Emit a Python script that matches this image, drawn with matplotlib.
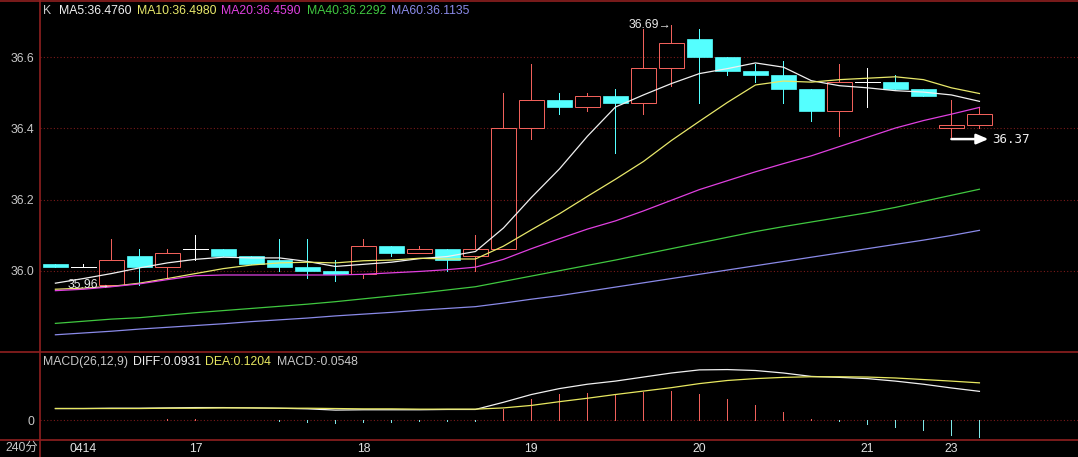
import matplotlib
matplotlib.use("Agg")
import matplotlib.pyplot as plt
from matplotlib.lines import Line2D
from matplotlib.patches import Rectangle

plt.rcParams['font.family'] = ['Liberation Sans', 'DejaVu Sans', 'Noto Sans CJK SC']

# K line data, one bar per entry
opens = [36.02, 36.01, 35.96, 36.04, 36.01, 36.06, 36.06, 36.04, 36.03, 36.01,
         36.00, 35.99, 36.07, 36.05, 36.06, 36.04, 36.06, 36.40, 36.48, 36.46,
         36.49, 36.47, 36.57, 36.65, 36.60, 36.56, 36.55, 36.51, 36.45, 36.53,
         36.53, 36.51, 36.40, 36.41]
highs = [36.02, 36.02, 36.09, 36.06, 36.06, 36.10, 36.06, 36.04, 36.09, 36.09,
         36.03, 36.09, 36.07, 36.07, 36.06, 36.10, 36.50, 36.58, 36.50, 36.50,
         36.51, 36.68, 36.69, 36.68, 36.60, 36.58, 36.59, 36.51, 36.58, 36.57,
         36.55, 36.51, 36.48, 36.46]
lows = [36.01, 36.01, 35.96, 35.96, 35.98, 36.03, 36.04, 36.02, 36.00, 35.98,
        35.97, 35.98, 36.04, 36.05, 36.00, 36.00, 36.06, 36.37, 36.44, 36.45,
        36.33, 36.44, 36.52, 36.47, 36.55, 36.53, 36.47, 36.42, 36.38, 36.46,
        36.51, 36.49, 36.37, 36.40]
closes = [36.01, 36.01, 36.03, 36.01, 36.05, 36.06, 36.04, 36.02, 36.01, 36.00,
          35.99, 36.07, 36.05, 36.06, 36.03, 36.06, 36.40, 36.48, 36.46, 36.49,
          36.47, 36.57, 36.64, 36.60, 36.56, 36.55, 36.51, 36.45, 36.53, 36.53,
          36.51, 36.49, 36.41, 36.44]

ma5 = [35.965, 35.978, 35.992, 36.008, 36.022, 36.032, 36.038, 36.036, 36.036, 36.026,
       36.012, 36.018, 36.024, 36.034, 36.040, 36.054, 36.120, 36.206, 36.286, 36.378,
       36.460, 36.494, 36.526, 36.554, 36.568, 36.584, 36.572, 36.534, 36.520, 36.514,
       36.506, 36.502, 36.494, 36.476]
ma10 = [35.948, 35.951, 35.956, 35.965, 35.978, 35.992, 36.006, 36.016, 36.022, 36.024,
        36.022, 36.028, 36.030, 36.035, 36.033, 36.033, 36.069, 36.115, 36.160, 36.209,
        36.257, 36.307, 36.366, 36.420, 36.473, 36.522, 36.533, 36.530, 36.537, 36.541,
        36.545, 36.537, 36.514, 36.498]
ma20 = [35.944, 35.948, 35.955, 35.963, 35.975, 35.986, 35.988, 35.988, 35.988, 35.988,
        35.988, 35.990, 35.994, 35.998, 36.003, 36.010, 36.032, 36.062, 36.090, 36.117,
        36.140, 36.168, 36.198, 36.228, 36.253, 36.278, 36.301, 36.323, 36.349, 36.375,
        36.401, 36.422, 36.440, 36.459]
ma40 = [35.852, 35.858, 35.864, 35.868, 35.875, 35.882, 35.888, 35.894, 35.900, 35.906,
        35.913, 35.921, 35.929, 35.937, 35.946, 35.955, 35.970, 35.985, 36.000, 36.015,
        36.030, 36.046, 36.062, 36.078, 36.094, 36.110, 36.124, 36.137, 36.150, 36.163,
        36.178, 36.195, 36.212, 36.229]
ma60 = [35.820, 35.825, 35.830, 35.836, 35.841, 35.846, 35.851, 35.857, 35.862, 35.867,
        35.873, 35.878, 35.883, 35.889, 35.894, 35.899, 35.909, 35.920, 35.930, 35.942,
        35.954, 35.966, 35.978, 35.990, 36.002, 36.014, 36.026, 36.038, 36.050, 36.062,
        36.074, 36.086, 36.099, 36.1135]

diff = [0.038, 0.038, 0.039, 0.039, 0.040, 0.041, 0.041, 0.040, 0.039, 0.037,
        0.033, 0.034, 0.034, 0.034, 0.035, 0.035, 0.058, 0.083, 0.102, 0.116,
        0.126, 0.139, 0.152, 0.162, 0.163, 0.160, 0.152, 0.141, 0.138, 0.134,
        0.126, 0.116, 0.104, 0.0931]
dea = [0.038, 0.038, 0.038, 0.038, 0.039, 0.039, 0.040, 0.040, 0.039, 0.039,
       0.038, 0.037, 0.037, 0.036, 0.036, 0.036, 0.040, 0.048, 0.060, 0.071,
       0.083, 0.094, 0.105, 0.118, 0.128, 0.134, 0.138, 0.140, 0.140, 0.139,
       0.136, 0.131, 0.126, 0.1204]
macd = [0.000, 0.001, 0.002, 0.002, 0.003, 0.004, 0.002, 0.001, -0.001, -0.004,
        -0.008, -0.005, -0.004, -0.003, -0.003, -0.002, 0.036, 0.070, 0.084, 0.089,
        0.083, 0.091, 0.093, 0.086, 0.068, 0.049, 0.028, 0.003, -0.003, -0.011,
        -0.021, -0.032, -0.048, -0.0548]

date_pos = [1, 5, 11, 17, 23, 29, 32]
date_labels = ['0414', '17', '18', '19', '20', '21', '23']

ma_names = ['MA5:36.4760', 'MA10:36.4980', 'MA20:36.4590', 'MA40:36.2292', 'MA60:36.1135']

UP = '#f0605a'
DOWN = '#54ffff'
BORDER = '#902020'
GRID = '#7a1a1a'
TXT = '#c8c8c8'
MA_COLORS = ['#f0f0f0', '#e8e86a', '#e040e0', '#40c840', '#8a8ae8']

W, H = 1078, 457
fig = plt.figure(figsize=(W / 100, H / 100), dpi=100, facecolor='black')


def fx(px):
    return px / W


def fy(py):
    return 1 - py / H


ax = fig.add_axes([fx(40), fy(351.5), 1 - fx(40), fy(1) - fy(351.5)], facecolor='black')
mx = fig.add_axes([fx(40), fy(440), 1 - fx(40), fy(351.5) - fy(440)], facecolor='black')

n = len(closes)
xs = list(range(n))
bw = 0.88
px = 0.72  # one pixel in points

for i in xs:
    o, h, l, c = opens[i], highs[i], lows[i], closes[i]
    if c > o:
        ax.add_patch(Rectangle((i - bw / 2, o), bw, c - o, fill=False, edgecolor=UP, lw=px, zorder=3))
        if h > c:
            ax.plot([i, i], [c, h], color=UP, lw=px, zorder=3)
        if l < o:
            ax.plot([i, i], [l, o], color=UP, lw=px, zorder=3)
    elif c < o:
        ax.plot([i, i], [l, h], color=DOWN, lw=px, zorder=3)
        ax.add_patch(Rectangle((i - bw / 2, c), bw, o - c, facecolor=DOWN, edgecolor=DOWN, lw=0.5, zorder=3))
    else:
        ax.plot([i, i], [l, h], color='white', lw=px, zorder=3)
        ax.plot([i - bw / 2, i + bw / 2], [o, o], color='white', lw=px, zorder=3)

for series, col in zip([ma5, ma10, ma20, ma40, ma60], MA_COLORS):
    ax.plot(xs, series, color=col, lw=0.9, zorder=4)

ax.set_xlim(-0.55, 36.52)
ax.set_ylim(35.773, 36.758)
ax.set_yticks([36.0, 36.2, 36.4, 36.6])
ax.set_yticklabels(['36.0', '36.2', '36.4', '36.6'])
ax.set_xticks([])
ax.tick_params(axis='y', length=0, pad=4, labelcolor=TXT, labelsize=8.8)
ax.yaxis.grid(True, color=GRID, linestyle=(0, (1, 2)), lw=0.8)
ax.set_axisbelow(True)

# price marks
ax.text(1.95, 35.96, '35.96\u2192', ha='right', va='center', color='#e8e8e8', fontsize=8.8, zorder=5)
ax.text(21.98, 36.69, '36.69\u2192', ha='right', va='center', color='#e8e8e8', fontsize=8.8, zorder=5)
ax.annotate('', xy=(33.32, 36.37), xytext=(32, 36.37),
            arrowprops=dict(arrowstyle='-|>,head_length=0.7,head_width=0.3', color='white', lw=1.8,
                            shrinkA=0, shrinkB=0), zorder=5)
ax.text(33.45, 36.37, '36.37', ha='left', va='center', color='#f0f0f0', fontsize=9,
        family='DejaVu Sans Mono', zorder=5)

# MACD panel
hist_colors = [UP if v >= 0 else '#7ee8e8' for v in macd]
mx.vlines(xs, 0, macd, colors=hist_colors, lw=0.7, zorder=3, antialiased=False)
mx.plot(xs, diff, color='#f0f0f0', lw=0.9, zorder=4)
mx.plot(xs, dea, color='#e8e860', lw=0.9, zorder=4)
mx.set_xlim(-0.55, 36.52)
mx.set_ylim(-0.063, 0.221)
mx.set_yticks([0])
mx.set_yticklabels(['0'])
mx.set_xticks(date_pos)
mx.set_xticklabels(date_labels)
mx.tick_params(axis='y', length=0, pad=4, labelcolor=TXT, labelsize=8.8)
mx.tick_params(axis='x', length=0, pad=2, labelcolor='#e0e0e0', labelsize=8.8)
mx.axhline(0, color=GRID, linestyle=(0, (1, 2)), lw=0.8, zorder=1)

for a in (ax, mx):
    for s in a.spines.values():
        s.set_visible(False)

# frame lines
for yy in (1, 351.5, 440):
    fig.add_artist(Line2D([0, 1], [fy(yy), fy(yy)], transform=fig.transFigure, color=BORDER, lw=1.2))
fig.add_artist(Line2D([fx(40), fx(40)], [0, 1], transform=fig.transFigure, color=BORDER, lw=1.2))

# headers
fig.text(fx(43), fy(11.5), 'K', color=TXT, fontsize=8.8, va='center')
for name, col, x0 in zip(ma_names, MA_COLORS, [58.5, 137, 221.5, 306.5, 391]):
    fig.text(fx(x0), fy(11.5), name, color=col, fontsize=8.8, va='center')

macd_head = [('MACD(26,12,9)', TXT, 42.5), ('DIFF:0.0931', '#f0f0f0', 132.5),
             ('DEA:0.1204', '#e8e860', 205), ('MACD:-0.0548', TXT, 277)]
for t, col, x0 in macd_head:
    fig.text(fx(x0), fy(362), t, color=col, fontsize=8.8, va='center')

fig.text(fx(5), fy(447.5), '240分', color=TXT, fontsize=8.8, va='center')

fig.savefig('out.png', dpi=100, facecolor='black')
